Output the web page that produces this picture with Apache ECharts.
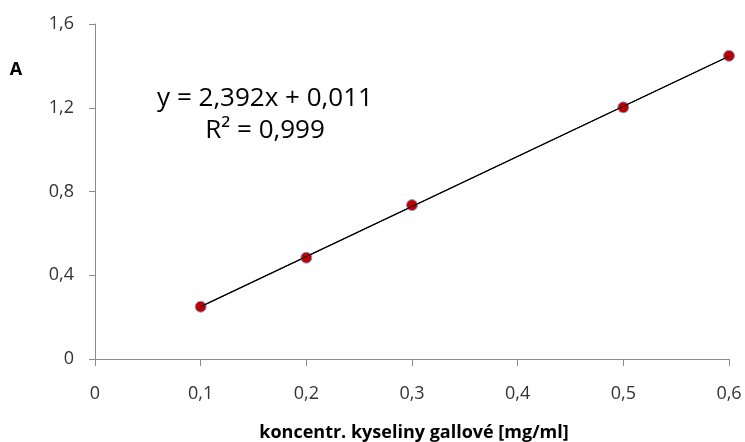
<!DOCTYPE html>
<html>
<head>
<meta charset="utf-8">
<script src="https://cdn.jsdelivr.net/npm/echarts@6/dist/echarts.min.js"></script>
<style>
  html, body { margin: 0; padding: 0; background: #fff; }
  #main { width: 745px; height: 442px; }
</style>
</head>
<body>
<div id="main"></div>
<script>
// data
let concentrations = [0.1, 0.2, 0.3, 0.5, 0.6]
let absorbances = [0.25, 0.484, 0.735, 1.202, 1.448]
// trend line end points (y = 2,392x + 0,011)
let trendX = [0.1, 0.6]
let trendY = [0.250, 1.446]
let equationText = 'y = 2,392x + 0,011'
let r2Text = 'R² = 0,999'
let xTitle = 'koncentr. kyseliny gallové [mg/ml]'
let yTitle = 'A'

let fmt = v => String(+v.toFixed(2)).replace('.', ',')
let font = '"Open Sans", sans-serif'

let myChart = echarts.init(document.getElementById('main'))
let option = {
  animation: false,
  textStyle: { fontFamily: font },
  grid: { left: 95, right: 16, top: 24, bottom: 83 },
  xAxis: {
    type: 'value',
    min: 0, max: 0.6, interval: 0.1,
    splitLine: { show: false },
    axisLine: { lineStyle: { color: '#8c8c8c' } },
    axisTick: { length: 7, lineStyle: { color: '#8c8c8c' } },
    axisLabel: { formatter: fmt, color: '#333', fontSize: 18, margin: 26, fontFamily: font }
  },
  yAxis: {
    type: 'value',
    min: 0, max: 1.6, interval: 0.4,
    splitLine: { show: false },
    axisLine: { show: true, lineStyle: { color: '#8c8c8c' } },
    axisTick: { show: true, length: 6, lineStyle: { color: '#8c8c8c' } },
    axisLabel: { formatter: fmt, color: '#333', fontSize: 18, margin: 21, fontFamily: font }
  },
  graphic: [
    { type: 'text', x: 16, y: 70, style: { text: yTitle, font: 'bold 18px ' + font, fill: '#000', align: 'center', verticalAlign: 'middle' } },
    { type: 'text', x: 414, y: 433, style: { text: xTitle, font: 'bold 18px ' + font, fill: '#000', align: 'center', verticalAlign: 'middle' } },
    { type: 'text', x: 265, y: 99, style: { text: equationText, font: '26px ' + font, fill: '#000', align: 'center', verticalAlign: 'middle' } },
    { type: 'text', x: 265, y: 131, style: { text: r2Text, font: '26px ' + font, fill: '#000', align: 'center', verticalAlign: 'middle' } }
  ],
  series: [
    {
      type: 'line',
      data: trendX.map((x, i) => [x, trendY[i]]),
      symbol: 'none',
      lineStyle: { color: '#000', width: 1.2 },
      z: 2
    },
    {
      type: 'scatter',
      data: concentrations.map((x, i) => [x, absorbances[i]]),
      symbolSize: 11,
      itemStyle: { color: '#c00000', borderColor: '#7f9fd0', borderWidth: 1, opacity: 1 },
      z: 3
    },
    {
      type: 'line',
      data: trendX.map((x, i) => [x, trendY[i]]),
      symbol: 'none',
      lineStyle: { color: '#000', width: 1 },
      z: 4,
      silent: true
    }
  ]
}
myChart.setOption(option)
</script>
</body>
</html>
